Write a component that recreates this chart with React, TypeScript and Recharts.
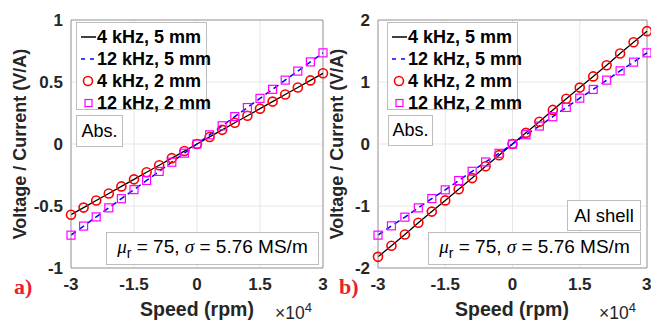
import { LineChart, Line, XAxis, YAxis, CartesianGrid, ReferenceLine } from 'recharts'

const SPEED = [-3, -2.7, -2.4, -2.1, -1.8, -1.5, -1.2, -0.9, -0.6, -0.3, 0, 0.3, 0.6, 0.9, 1.2, 1.5, 1.8, 2.1, 2.4, 2.7, 3]
const X_TICKS = [-3, -1.5, 0, 1.5, 3]

// panel a
const A_4K_5MM = [-0.57, -0.513, -0.456, -0.399, -0.342, -0.285, -0.228, -0.171, -0.114, -0.057, 0, 0.057, 0.114, 0.171, 0.228, 0.285, 0.342, 0.399, 0.456, 0.513, 0.57]
const A_12K_5MM = [-0.735, -0.662, -0.588, -0.515, -0.441, -0.368, -0.294, -0.221, -0.147, -0.074, 0, 0.074, 0.147, 0.221, 0.294, 0.368, 0.441, 0.515, 0.588, 0.662, 0.735]
const A_4K_2MM = [-0.57, -0.513, -0.456, -0.399, -0.342, -0.285, -0.228, -0.171, -0.114, -0.057, 0, 0.057, 0.114, 0.171, 0.228, 0.285, 0.342, 0.399, 0.456, 0.513, 0.57]
const A_12K_2MM = [-0.735, -0.662, -0.588, -0.515, -0.441, -0.368, -0.294, -0.221, -0.147, -0.074, 0, 0.074, 0.147, 0.221, 0.294, 0.368, 0.441, 0.515, 0.588, 0.662, 0.735]
const A_Y_TICKS = [-1, -0.5, 0, 0.5, 1]

// panel b
const B_4K_5MM = [-1.82, -1.64, -1.46, -1.27, -1.09, -0.91, -0.73, -0.55, -0.36, -0.18, 0, 0.18, 0.36, 0.55, 0.73, 0.91, 1.09, 1.27, 1.46, 1.64, 1.82]
const B_12K_5MM = [-1.47, -1.32, -1.18, -1.03, -0.88, -0.74, -0.59, -0.44, -0.29, -0.15, 0, 0.15, 0.29, 0.44, 0.59, 0.74, 0.88, 1.03, 1.18, 1.32, 1.47]
const B_4K_2MM = [-1.82, -1.64, -1.46, -1.27, -1.09, -0.91, -0.73, -0.55, -0.36, -0.18, 0, 0.18, 0.36, 0.55, 0.73, 0.91, 1.09, 1.27, 1.46, 1.64, 1.82]
const B_12K_2MM = [-1.47, -1.32, -1.18, -1.03, -0.88, -0.74, -0.59, -0.44, -0.29, -0.15, 0, 0.15, 0.29, 0.44, 0.59, 0.74, 0.88, 1.03, 1.18, 1.32, 1.47]
const B_Y_TICKS = [-2, -1, 0, 1, 2]

const LEGEND = ['4 kHz, 5 mm', '12 kHz, 5 mm', '4 kHz, 2 mm', '12 kHz, 2 mm']

const FONT = '"Liberation Sans", Arial, sans-serif'
const INK = '#262626'

function buildRows(l4: number[], l12: number[], m4: number[], m12: number[]) {
  return SPEED.map((s, i) => ({ speed: s, l4: l4[i], l12: l12[i], m4: m4[i], m12: m12[i] }))
}

const circleDot = (p: any) => (
  <circle key={`c${p.index}`} cx={p.cx} cy={p.cy} r={4.5} fill="none" stroke="#ff0000" strokeWidth={1.6} />
)
const squareDot = (p: any) => (
  <rect key={`s${p.index}`} x={p.cx - 4} y={p.cy - 4} width={8} height={8} fill="none" stroke="#ff00ff" strokeWidth={1.2} />
)

function LegendIcon({ i }: { i: number }) {
  return (
    <svg width={17} height={14} style={{ display: 'block', flex: 'none' }}>
      {i === 0 && <line x1={1} y1={7} x2={16} y2={7} stroke="#000" strokeWidth={1.5} />}
      {i === 1 && <line x1={1} y1={7} x2={16} y2={7} stroke="#0000ff" strokeWidth={1.5} strokeDasharray="4 5" />}
      {i === 2 && <circle cx={8} cy={7} r={4.5} fill="none" stroke="#ff0000" strokeWidth={1.6} />}
      {i === 3 && <rect x={5} y={3.5} width={7} height={7} fill="none" stroke="#ff00ff" strokeWidth={1.2} />}
    </svg>
  )
}

const boxStyle = {
  position: 'absolute' as const,
  background: '#fff',
  border: '1px solid #bdbdbd',
  boxSizing: 'border-box' as const,
  color: '#000',
}

interface PanelProps {
  left: number
  width: number
  yAxisWidth: number
  rightMargin: number
  yDomain: [number, number]
  yTicks: number[]
  rows: ReturnType<typeof buildRows>
}

function Panel({ left, width, yAxisWidth, rightMargin, yDomain, yTicks, rows }: PanelProps) {
  return (
    <div style={{ position: 'absolute', left, top: 0 }}>
      <LineChart width={width} height={324} data={rows} margin={{ top: 20, right: rightMargin, left: 0, bottom: 0 }}>
        <CartesianGrid stroke="#e6e6e6" strokeWidth={1} />
        <XAxis
          dataKey="speed"
          type="number"
          domain={[-3, 3]}
          ticks={X_TICKS}
          height={56}
          tickLine={false}
          tickMargin={4}
          axisLine={{ stroke: '#9a9a9a' }}
          tick={{ fill: INK, fontSize: 17, fontWeight: 700, fontFamily: FONT }}
          tickFormatter={(v: number) => String(v)}
        />
        <YAxis
          type="number"
          domain={yDomain}
          ticks={yTicks}
          width={yAxisWidth}
          tickLine={false}
          axisLine={{ stroke: '#9a9a9a' }}
          tick={{ fill: INK, fontSize: 17, fontWeight: 700, fontFamily: FONT }}
          tickFormatter={(v: number) => String(v)}
        />
        <ReferenceLine x={3} stroke="#9a9a9a" />
        <ReferenceLine y={yDomain[1]} stroke="#9a9a9a" />
        <Line dataKey="l4" stroke="#000" strokeWidth={1.3} dot={false} isAnimationActive={false} />
        <Line dataKey="l12" stroke="#0000ff" strokeWidth={1.5} strokeDasharray="6 4" dot={false} isAnimationActive={false} />
        <Line dataKey="m4" stroke="none" dot={circleDot} activeDot={false} isAnimationActive={false} />
        <Line dataKey="m12" stroke="none" dot={squareDot} activeDot={false} isAnimationActive={false} />
      </LineChart>
    </div>
  )
}

function Legend({ left, width }: { left: number; width: number }) {
  return (
    <div style={{ ...boxStyle, left, top: 22, width, height: 88, paddingTop: 3 }}>
      {LEGEND.map((t, i) => (
        <div key={t} style={{ display: 'flex', alignItems: 'center', height: 22, paddingLeft: 3 }}>
          <LegendIcon i={i} />
          <span style={{ fontWeight: 700, fontSize: 18, color: '#000', whiteSpace: 'nowrap' }}>{t}</span>
        </div>
      ))}
    </div>
  )
}

function TextBox({ left, top, width, height, size, children }: any) {
  return (
    <div style={{ ...boxStyle, left, top, width, height, display: 'flex', alignItems: 'center', justifyContent: 'center', fontSize: size, whiteSpace: 'nowrap' }}>
      {children}
    </div>
  )
}

function Param() {
  return (
    <span style={{ fontSize: 19 }}>
      <i style={{ fontFamily: '"Liberation Serif", serif' }}>μ</i>
      <sub style={{ fontSize: 14, verticalAlign: -5 }}>r</sub> = 75, <i style={{ fontFamily: '"Liberation Serif", serif' }}>σ</i> = 5.76 MS/m
    </span>
  )
}

function AxisTitles({ yCenter, xCenter, expLeft, tag, tagLeft }: any) {
  return (
    <>
      <div
        style={{
          position: 'absolute', left: yCenter - 130, top: 144 - 12, width: 260, height: 24,
          transform: 'rotate(-90deg)', textAlign: 'center', fontWeight: 700, fontSize: 18, color: INK, whiteSpace: 'nowrap',
        }}
      >
        Voltage / Current (V/A)
      </div>
      <div style={{ position: 'absolute', left: xCenter - 80, top: 298, width: 160, textAlign: 'center', fontWeight: 700, fontSize: 19.5, color: INK }}>
        Speed (rpm)
      </div>
      <div style={{ position: 'absolute', left: expLeft, top: 300, fontSize: 17.5, color: INK, whiteSpace: 'nowrap' }}>
        ×10<sup style={{ fontSize: 13, verticalAlign: 7 }}>4</sup>
      </div>
      <div style={{ position: 'absolute', left: tagLeft, top: 274, fontFamily: '"Liberation Serif", serif', fontWeight: 700, fontSize: 22, color: '#e8202a' }}>
        {tag}
      </div>
    </>
  )
}

export default function App() {
  const rowsA = buildRows(A_4K_5MM, A_12K_5MM, A_4K_2MM, A_12K_2MM)
  const rowsB = buildRows(B_4K_5MM, B_12K_5MM, B_4K_2MM, B_12K_2MM)
  return (
    <div style={{ position: 'absolute', left: 0, top: 0, width: 651, height: 324, background: '#fff', overflow: 'hidden', fontFamily: FONT }}>
      <Panel left={0} width={330} yAxisWidth={71} rightMargin={7} yDomain={[-1, 1]} yTicks={A_Y_TICKS} rows={rowsA} />
      <Panel left={325} width={326} yAxisWidth={53} rightMargin={4} yDomain={[-2, 2]} yTicks={B_Y_TICKS} rows={rowsB} />

      <Legend left={76} width={131} />
      <TextBox left={76} top={115} width={47} height={32} size={18}>Abs.</TextBox>
      <TextBox left={106} top={232} width={213} height={33}><Param /></TextBox>
      <AxisTitles yCenter={22} xCenter={197} expLeft={275} tag="a)" tagLeft={14} />

      <Legend left={387} width={131} />
      <TextBox left={388} top={115} width={45} height={31} size={18}>Abs.</TextBox>
      <TextBox left={567} top={200} width={74} height={31} size={18.5}>Al shell</TextBox>
      <TextBox left={428} top={232} width={213} height={33}><Param /></TextBox>
      <AxisTitles yCenter={339} xCenter={512} expLeft={599} tag="b)" tagLeft={339} />
    </div>
  )
}
